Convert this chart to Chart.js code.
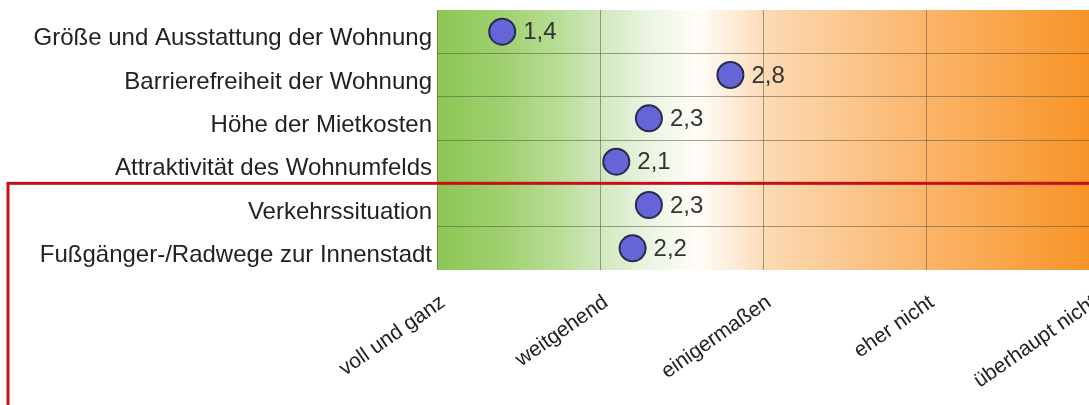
<!DOCTYPE html>
<html lang="de">
<head>
<meta charset="utf-8">
<title>Bewertung der Wohnsituation</title>
<script src="https://cdn.jsdelivr.net/npm/chart.js@4/dist/chart.umd.min.js"></script>
<style>
  html, body { margin: 0; padding: 0; background: #ffffff; }
  #wrap { width: 1089px; height: 405px; position: relative; }
</style>
</head>
<body>
<div id="wrap"><canvas id="chart"></canvas></div>
<script>
// Aspects that were rated
const aspects = [
  'Größe und Ausstattung der Wohnung',
  'Barrierefreiheit der Wohnung',
  'Höhe der Mietkosten',
  'Attraktivität des Wohnumfelds',
  'Verkehrssituation',
  'Fußgänger-/Radwege zur Innenstadt'
];

// Mean rating per aspect (1 = voll und ganz ... 5 = überhaupt nicht)
const meanRatings = [1.4, 2.8, 2.3, 2.1, 2.3, 2.2];

// Labels of the rating scale
const scaleLabels = ['voll und ganz', 'weitgehend', 'einigermaßen', 'eher nicht', 'überhaupt nicht'];

// Aspects inside the highlighted box (from this index on)
const highlightFrom = 4;

const FONT = '"Liberation Sans", Arial, sans-serif';
const GRID = 'rgba(95, 85, 60, 0.55)';

// Green -> white -> orange band behind the plot
const backgroundBand = {
  id: 'backgroundBand',
  beforeDraw(chart) {
    const { ctx, chartArea: a } = chart;
    const g = ctx.createLinearGradient(a.left, 0, a.right, 0);
    g.addColorStop(0.00, 'rgb(140, 198, 84)');
    g.addColorStop(0.10, 'rgb(160, 208, 112)');
    g.addColorStop(0.19, 'rgb(186, 222, 152)');
    g.addColorStop(0.25, 'rgb(208, 232, 190)');
    g.addColorStop(0.33, 'rgb(236, 245, 228)');
    g.addColorStop(0.40, 'rgb(255, 253, 248)');
    g.addColorStop(0.46, 'rgb(253, 234, 212)');
    g.addColorStop(0.51, 'rgb(252, 217, 178)');
    g.addColorStop(0.75, 'rgb(251, 181, 106)');
    g.addColorStop(1.00, 'rgb(247, 148, 40)');
    ctx.save();
    ctx.fillStyle = g;
    ctx.fillRect(a.left, a.top, a.right - a.left, a.bottom - a.top);
    ctx.restore();
  }
};

// Value next to each point, German decimal comma
const valueLabels = {
  id: 'valueLabels',
  afterDatasetsDraw(chart) {
    const { ctx } = chart;
    const meta = chart.getDatasetMeta(0);
    const values = chart.data.datasets[0].data;
    ctx.save();
    ctx.font = '24px ' + FONT;
    ctx.fillStyle = '#333333';
    ctx.textAlign = 'left';
    ctx.textBaseline = 'middle';
    meta.data.forEach((pt, i) => {
      const txt = values[i].toFixed(1).replace('.', ',');
      ctx.fillText(txt, pt.x + 21, pt.y + 1);
    });
    ctx.restore();
  }
};

// Red frame around the lower group of aspects
const highlightFrame = {
  id: 'highlightFrame',
  afterDraw(chart) {
    const { ctx } = chart;
    const y = chart.scales.y;
    const top = (y.getPixelForValue(highlightFrom - 1) + y.getPixelForValue(highlightFrom)) / 2;
    ctx.save();
    ctx.strokeStyle = '#c3101a';
    ctx.lineWidth = 3;
    ctx.strokeRect(8, top, chart.width + 20, chart.height + 20);
    ctx.restore();
  }
};

new Chart(document.getElementById('chart'), {
  type: 'line',
  data: {
    labels: aspects,
    datasets: [{
      data: meanRatings,
      showLine: false,
      pointRadius: 13,
      pointHoverRadius: 13,
      pointBorderWidth: 2,
      pointBackgroundColor: '#6565d8',
      pointBorderColor: '#2a2a4c'
    }]
  },
  options: {
    indexAxis: 'y',
    responsive: true,
    maintainAspectRatio: false,
    animation: false,
    events: [],
    layout: { autoPadding: false, padding: { top: 10, right: 0, bottom: 0, left: 0 } },
    plugins: {
      legend: { display: false },
      tooltip: { enabled: false }
    },
    scales: {
      x: {
        type: 'linear',
        position: 'bottom',
        min: 1,
        max: 5,
        afterFit(s) {
          s.height = 135;
          s.paddingLeft = 0;
          s.paddingRight = 0;
        },
        border: { display: false },
        grid: { color: GRID, lineWidth: 1, drawTicks: false },
        ticks: {
          stepSize: 1,
          minRotation: 35,
          maxRotation: 35,
          padding: 20,
          labelOffset: 6,
          color: '#222222',
          font: { family: FONT, size: 21 },
          callback: (v) => scaleLabels[Math.round(v) - 1] || ''
        }
      },
      y: {
        type: 'category',
        offset: true,
        afterFit(s) {
          s.width = 437;
          s.paddingTop = 0;
          s.paddingBottom = 0;
        },
        border: { display: false },
        grid: {
          offset: true,
          drawTicks: false,
          lineWidth: 1,
          color: (c) => (c.type !== 'tick' || c.index === 0) ? 'rgba(0,0,0,0)' : GRID
        },
        ticks: {
          padding: 5,
          labelOffset: 7,
          color: '#222222',
          font: { family: FONT, size: 24 }
        }
      }
    }
  },
  plugins: [backgroundBand, valueLabels, highlightFrame]
});
</script>
</body>
</html>
